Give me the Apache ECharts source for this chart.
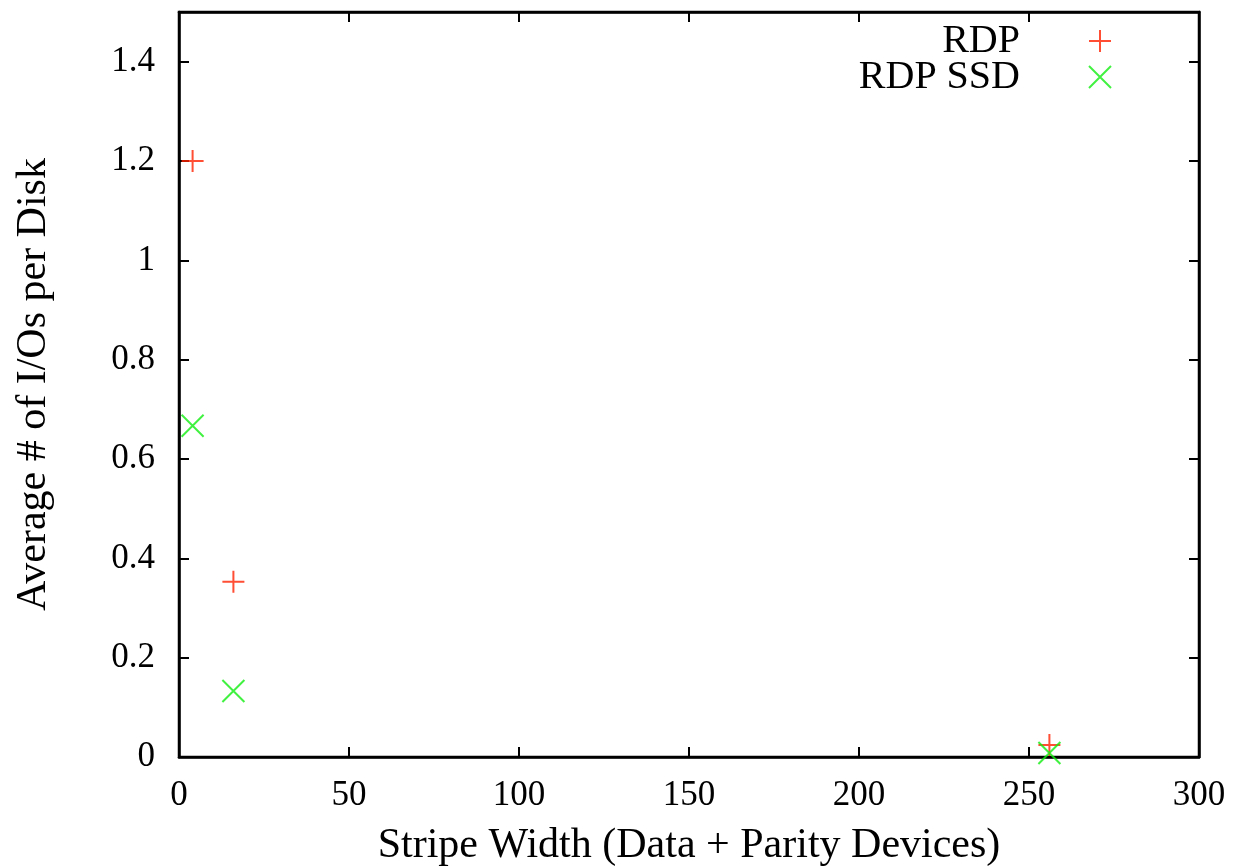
<!DOCTYPE html>
<html>
<head>
<meta charset="utf-8">
<script src="https://cdn.jsdelivr.net/npm/echarts@6/dist/echarts.min.js"></script>
<style>html,body{margin:0;padding:0;background:#fff}#c{width:1235px;height:867px}</style>
</head>
<body>
<div id="c"></div>
<script>
const seriesNames = ['RDP', 'RDP SSD'];
const stripeWidths = [4, 16, 256];
const rdpValues = [1.2, 0.353, 0.024];
const rdpSsdValues = [0.667, 0.133, 0.008];
const xTicks = [0, 50, 100, 150, 200, 250, 300];
const yTicks = [0, 0.2, 0.4, 0.6, 0.8, 1, 1.2, 1.4];

const FONT = 'Liberation Serif';
const RED = '#ff2200';
const GREEN = '#11ee11';
const PLUS = 'path://M0,50L100,50M50,0L50,100';
const CROSS = 'path://M0,0L100,100M0,100L100,0';

const chart = echarts.init(document.getElementById('c'), null, {renderer: 'canvas'});
const mkLine = () => ({show: true, onZero: false, lineStyle: {color: '#000', width: 2.5}});
const mkTick = () => ({show: true, inside: true, length: 10, lineStyle: {color: '#000', width: 2}});

function legendFor(name, top, color, icon) {
  return {
    data: [{name: name, icon: icon, itemStyle: {color: 'rgba(0,0,0,0)', borderColor: color, borderWidth: 2}}],
    right: 118, top: top, orient: 'vertical', align: 'right',
    itemWidth: 22, itemHeight: 22,
    textStyle: {fontFamily: FONT, fontSize: 40, color: '#000', padding: [0, 64, 0, 0]},
    selectedMode: false
  };
}

chart.setOption({
  animation: false,
  backgroundColor: '#fff',
  grid: {left: 179, right: 36, top: 12, bottom: 110, containLabel: false, outerBoundsMode: 'none',
    show: true, borderColor: '#000', borderWidth: 2.5, backgroundColor: 'rgba(0,0,0,0)'},
  legend: [
    legendFor(seriesNames[0], 16, RED, PLUS),
    legendFor(seriesNames[1], 52, GREEN, CROSS)
  ],
  xAxis: [{
    type: 'value', min: xTicks[0], max: xTicks[xTicks.length - 1], interval: 50,
    name: 'Stripe Width (Data + Parity Devices)', nameLocation: 'middle', nameGap: 68,
    nameTextStyle: {fontFamily: FONT, fontSize: 42, color: '#000'},
    axisLine: mkLine(), axisTick: mkTick(), splitLine: {show: false},
    axisLabel: {fontFamily: FONT, fontSize: 35, color: '#000', margin: 21}
  }, {
    type: 'value', position: 'top', min: xTicks[0], max: xTicks[xTicks.length - 1], interval: 50,
    axisLine: mkLine(), axisTick: mkTick(), splitLine: {show: false}, axisLabel: {show: false}
  }],
  yAxis: [{
    type: 'value', min: 0, max: 1.5, interval: 0.2,
    name: 'Average # of I/Os per Disk', nameLocation: 'middle', nameGap: 124,
    nameTextStyle: {fontFamily: FONT, fontSize: 42, color: '#000'},
    axisLine: mkLine(), axisTick: mkTick(), splitLine: {show: false},
    axisLabel: {fontFamily: FONT, fontSize: 35, color: '#000', margin: 24,
      customValues: yTicks, formatter: v => String(v)},
  }, {
    type: 'value', position: 'right', min: 0, max: 1.5, interval: 0.2,
    axisLine: mkLine(), axisTick: mkTick(), splitLine: {show: false}, axisLabel: {show: false}
  }],
  series: [{
    name: seriesNames[0], type: 'scatter', symbol: PLUS, symbolSize: 22,
    itemStyle: {color: 'rgba(0,0,0,0)', borderColor: RED, borderWidth: 2},
    data: stripeWidths.map((x, i) => [x, rdpValues[i]])
  }, {
    name: seriesNames[1], type: 'scatter', symbol: CROSS, symbolSize: 22,
    itemStyle: {color: 'rgba(0,0,0,0)', borderColor: GREEN, borderWidth: 2},
    data: stripeWidths.map((x, i) => [x, rdpSsdValues[i]])
  }]
});
</script>
</body>
</html>
